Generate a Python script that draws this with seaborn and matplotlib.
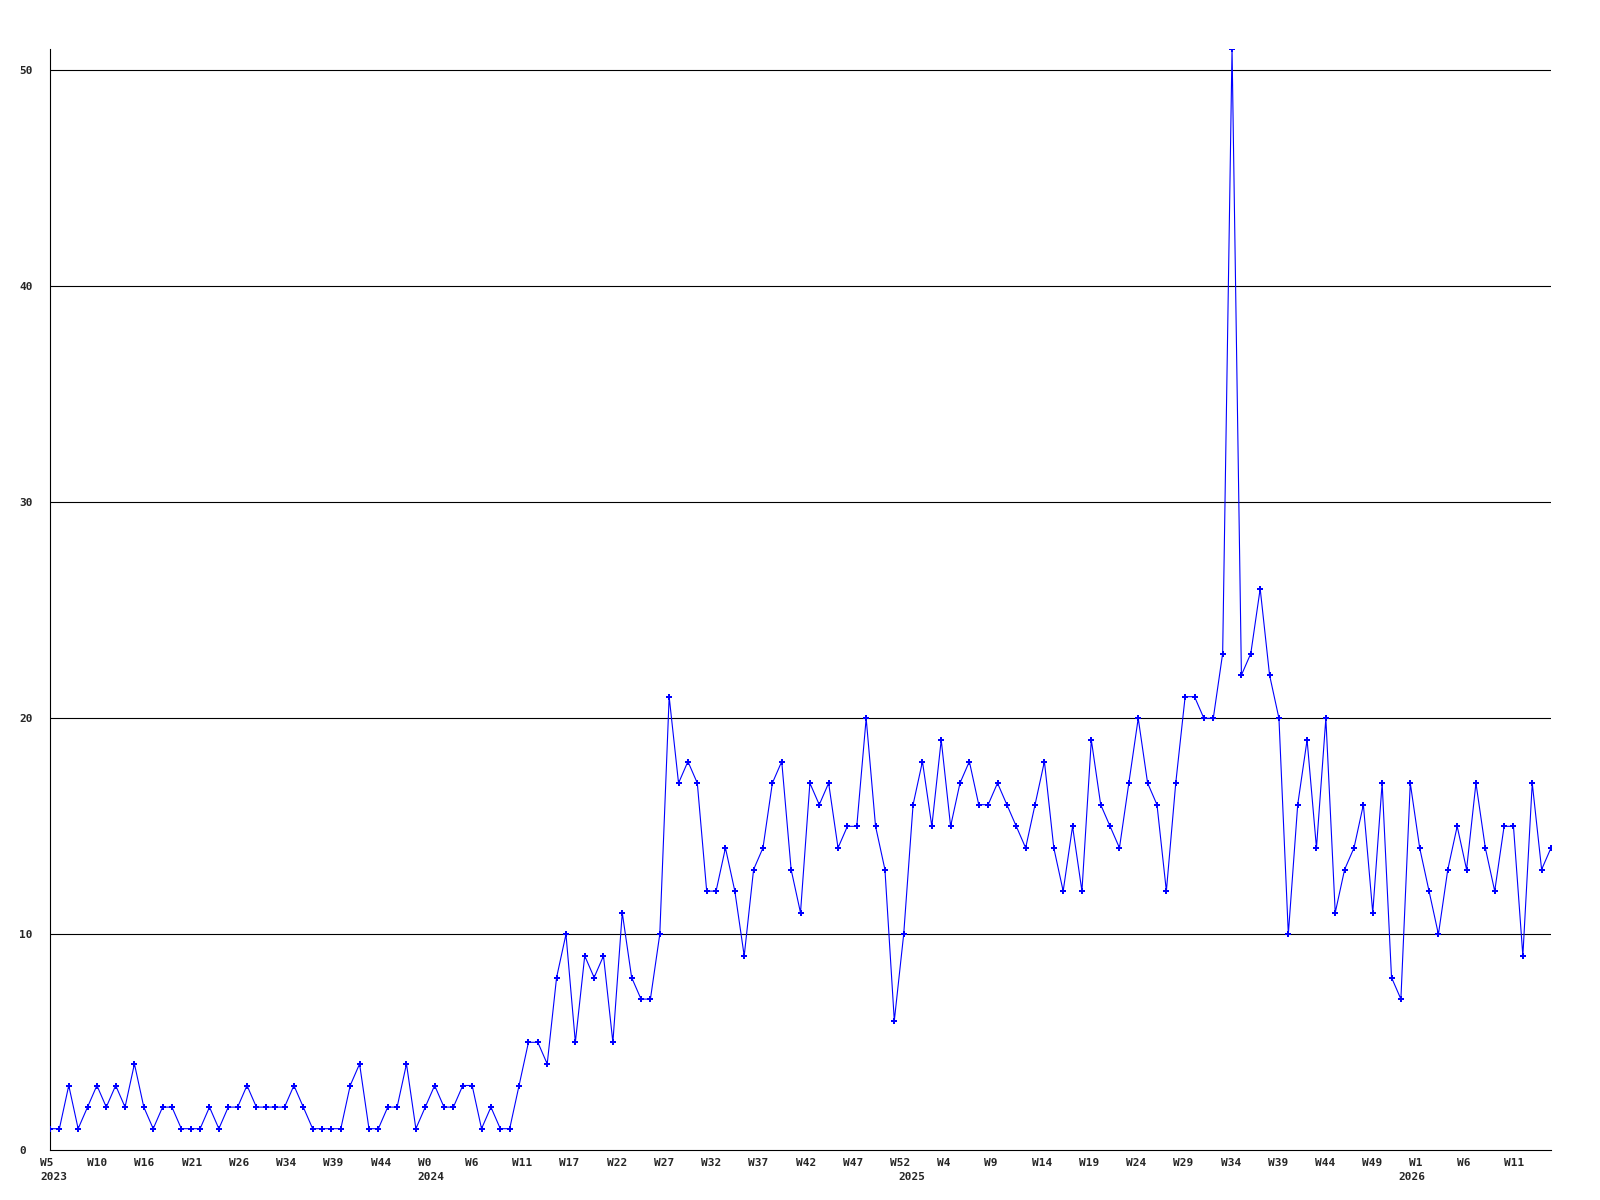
import numpy as np
import pandas as pd
import matplotlib
matplotlib.use("Agg")
import matplotlib.pyplot as plt
import seaborn as sns

# weekly counts, one per data point (left to right)
counts = [
    1, 1, 3, 1, 2, 3, 2, 3, 2, 4,
    2, 1, 2, 2, 1, 1, 1, 2, 1, 2,
    2, 3, 2, 2, 2, 2, 3, 2, 1, 1,
    1, 1, 3, 4, 1, 1, 2, 2, 4, 1,
    2, 3, 2, 2, 3, 3, 1, 2, 1, 1,
    3, 5, 5, 4, 8, 10, 5, 9, 8, 9,
    5, 11, 8, 7, 7, 10, 21, 17, 18, 17,
    12, 12, 14, 12, 9, 13, 14, 17, 18, 13,
    11, 17, 16, 17, 14, 15, 15, 20, 15, 13,
    6, 10, 16, 18, 15, 19, 15, 17, 18, 16,
    16, 17, 16, 15, 14, 16, 18, 14, 12, 15,
    12, 19, 16, 15, 14, 17, 20, 17, 16, 12,
    17, 21, 21, 20, 20, 23, 51, 22, 23, 26,
    22, 20, 10, 16, 19, 14, 20, 11, 13, 14,
    16, 11, 17, 8, 7, 17, 14, 12, 10, 13,
    15, 13, 17, 14, 12, 15, 15, 9, 17, 13,
    14,
]

week_labels = [
    "W5", "W10", "W16", "W21", "W26", "W34", "W39", "W44",
    "W0", "W6", "W11", "W17", "W22", "W27", "W32", "W37",
    "W42", "W47", "W52", "W4", "W9", "W14", "W19", "W24",
    "W29", "W34", "W39", "W44", "W49", "W1", "W6", "W11",
]
years = ["2023", "2024", "2025", "2026"]
year_x = [-1.07, 39.2, 90.45, 143.75]

y_ticks = [0, 10, 20, 30, 40, 50]

df = pd.DataFrame({"idx": np.arange(len(counts)), "count": counts})

sns.set_style("white")
plt.rcParams["font.family"] = ["DejaVu Sans Mono"]

fig = plt.figure(figsize=(16, 12), dpi=100)
ax = fig.add_axes([50 / 1600, 49.7 / 1200, 1501 / 1600, 1101.6 / 1200])

for v in y_ticks[1:]:
    ax.axhline(v, color="black", lw=0.8, zorder=1)

sns.lineplot(data=df, x="idx", y="count", color="#0000FF", lw=0.8,
             marker="P", markersize=4, markeredgewidth=0,
             markerfacecolor="#0000FF", ax=ax, zorder=3)

ax.set_xlim(0, len(counts) - 1)
ax.set_ylim(0, max(counts))
ax.set_xticks([])

# week labels: left aligned, spaced a little wider than 5 points
step = 5.034
for k, lab in enumerate(week_labels):
    ax.annotate(lab, xy=(-1.07 + step * k, 0), xycoords=("data", "axes fraction"),
                xytext=(0, -5.8), textcoords="offset points", ha="left", va="top",
                fontsize=8, fontweight="bold", annotation_clip=False)

for yr, x in zip(years, year_x):
    ax.annotate(yr, xy=(x, 0), xycoords=("data", "axes fraction"),
                xytext=(0, -15.6), textcoords="offset points", ha="left", va="top",
                fontsize=8, fontweight="bold", annotation_clip=False)

ax.set_yticks(y_ticks)
ax.set_yticklabels([str(v) for v in y_ticks], fontsize=8, fontweight="bold", ha="left")
ax.tick_params(axis="y", length=0, pad=22)

ax.set_xlabel("")
ax.set_ylabel("")
for s in ["top", "right"]:
    ax.spines[s].set_visible(False)
for s in ["left", "bottom"]:
    ax.spines[s].set_color("black")
    ax.spines[s].set_linewidth(0.8)

fig.savefig("out.png", dpi=100, facecolor="white")
